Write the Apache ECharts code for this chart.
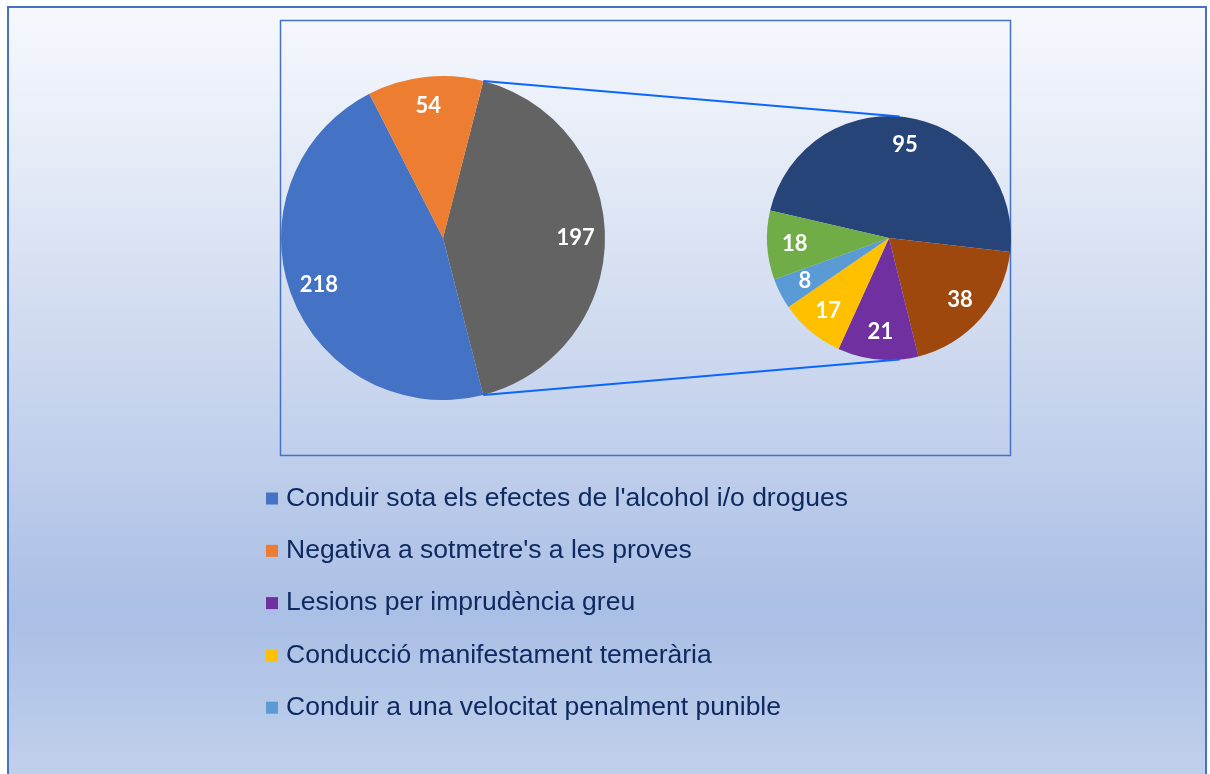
<!DOCTYPE html>
<html lang="ca">

<head>
    <meta charset="UTF-8">
    <title>Delictes contra la seguretat viària</title>
    <script src="https://cdn.jsdelivr.net/npm/echarts@6/dist/echarts.min.js"></script>
    <style>
        body { margin: 0; background: #fff; overflow: hidden; }
        #chart { width: 1210px; height: 774px; }
    </style>
</head>

<body>
    <div id="chart"></div>
</body>
<script type="text/javascript">
    // main pie categories
    var mainNames = ["Conduir sota els efectes de l'alcohol i/o drogues", "Negativa a sotmetre's a les proves"];
    var mainValues = [218, 54];
    var otherName = 'Altres';

    // secondary pie (split of "Altres")
    var subNames = ['Categoria 6', 'Categoria 7', 'Lesions per imprudència greu', 'Conducció manifestament temerària',
        'Conduir a una velocitat penalment punible', 'Categoria 8'];
    var subValues = [95, 38, 21, 17, 8, 18];

    // legend entries visible in the picture
    var legendNames = ["Conduir sota els efectes de l'alcohol i/o drogues", "Negativa a sotmetre's a les proves",
        'Lesions per imprudència greu', 'Conducció manifestament temerària', 'Conduir a una velocitat penalment punible'];

    var mainColors = ['#636363', '#4472c4', '#ed7d31'];
    var subColors = ['#264478', '#9e480e', '#7030a0', '#ffc000', '#5b9bd5', '#70ad47'];

    var otherValue = subValues.reduce(function (a, b) { return a + b; }, 0);
    var mainTotal = otherValue + mainValues.reduce(function (a, b) { return a + b; }, 0);

    // geometry
    var c1 = [443, 238], r1 = 162;
    var c2 = [889, 238], r2 = 122;
    var half = 180 * otherValue / mainTotal;   // "Altres" slice centred on 3 o'clock
    var subStart = 167;

    var mainData = [{ name: otherName, value: otherValue }];
    mainValues.forEach(function (v, i) { mainData.push({ name: mainNames[i], value: v }); });
    mainData.forEach(function (d, i) { d.itemStyle = { color: mainColors[i] }; });

    var subData = subValues.map(function (v, i) {
        return { name: subNames[i], value: v, itemStyle: { color: subColors[i] } };
    });

    function pt(c, r, deg) {
        var a = deg * Math.PI / 180;
        return [c[0] + r * Math.cos(a), c[1] - r * Math.sin(a)];
    }
    var pTop1 = pt(c1, r1, half), pBot1 = pt(c1, r1, -half);
    var pTop2 = pt(c2, r2, 85), pBot2 = pt(c2, r2, -85);

    var labelStyle = {
        show: true,
        position: 'inside',
        formatter: '{c}',
        color: '#ffffff',
        fontFamily: 'Lato',
        fontWeight: 'bold',
        fontSize: 22
    };

    var chart = echarts.init(document.getElementById('chart'));

    var option = {
        animation: false,
        graphic: [
            {
                type: 'rect', z: -10, silent: true,
                shape: { x: 8, y: 7, width: 1198, height: 790 },
                style: {
                    stroke: '#4472c4', lineWidth: 2,
                    fill: new echarts.graphic.LinearGradient(0, 0, 0, 1, [
                        { offset: 0, color: '#f6f8fd' },
                        { offset: 0.15, color: '#e9eef8' },
                        { offset: 0.5, color: '#c7d4ed' },
                        { offset: 0.77, color: '#aabfe5' },
                        { offset: 1, color: '#c4d3ed' }
                    ])
                }
            },
            {
                type: 'rect', z: -9, silent: true,
                shape: { x: 280.5, y: 20.5, width: 730, height: 435 },
                style: { stroke: '#4472c4', lineWidth: 1.5, fill: 'none' }
            },
            {
                type: 'line', z: 10, silent: true,
                shape: { x1: pTop1[0], y1: pTop1[1], x2: pTop2[0], y2: pTop2[1] },
                style: { stroke: '#0a66ff', lineWidth: 2 }
            },
            {
                type: 'line', z: 10, silent: true,
                shape: { x1: pBot1[0], y1: pBot1[1], x2: pBot2[0], y2: pBot2[1] },
                style: { stroke: '#0a66ff', lineWidth: 2 }
            }
        ],
        legend: {
            data: legendNames,
            orient: 'vertical',
            left: 266,
            top: 485,
            padding: 0,
            icon: 'rect',
            itemWidth: 12,
            itemHeight: 12,
            itemGap: 25.3,
            selectedMode: false,
            textStyle: {
                fontFamily: 'Liberation Sans',
                fontSize: 26.5,
                lineHeight: 26,
                color: '#0f2a60',
                padding: [0, 0, 0, 3]
            }
        },
        series: [
            {
                type: 'pie', name: 'main',
                center: c1, radius: r1,
                startAngle: half, clockwise: true,
                label: { show: false }, labelLine: { show: false },
                emphasis: { disabled: true },
                data: mainData
            },
            {
                type: 'pie', name: 'sub',
                center: c2, radius: r2,
                startAngle: subStart, clockwise: true,
                label: { show: false }, labelLine: { show: false },
                emphasis: { disabled: true },
                data: subData
            },
            // label rings: put value labels further out than the default midpoint
            {
                type: 'pie', silent: true,
                center: c1, radius: [r1 * 0.6, r1],
                startAngle: half, clockwise: true,
                itemStyle: { color: 'transparent' },
                label: labelStyle, labelLine: { show: false },
                data: mainData.map(function (d) { return { name: d.name, value: d.value }; })
            },
            {
                type: 'pie', silent: true,
                center: c2, radius: [r2 * 0.5, r2],
                startAngle: subStart, clockwise: true,
                itemStyle: { color: 'transparent' },
                label: labelStyle, labelLine: { show: false },
                data: subData.map(function (d) { return { name: d.name, value: d.value }; })
            }
        ]
    };

    chart.setOption(option);
</script>

</html>
